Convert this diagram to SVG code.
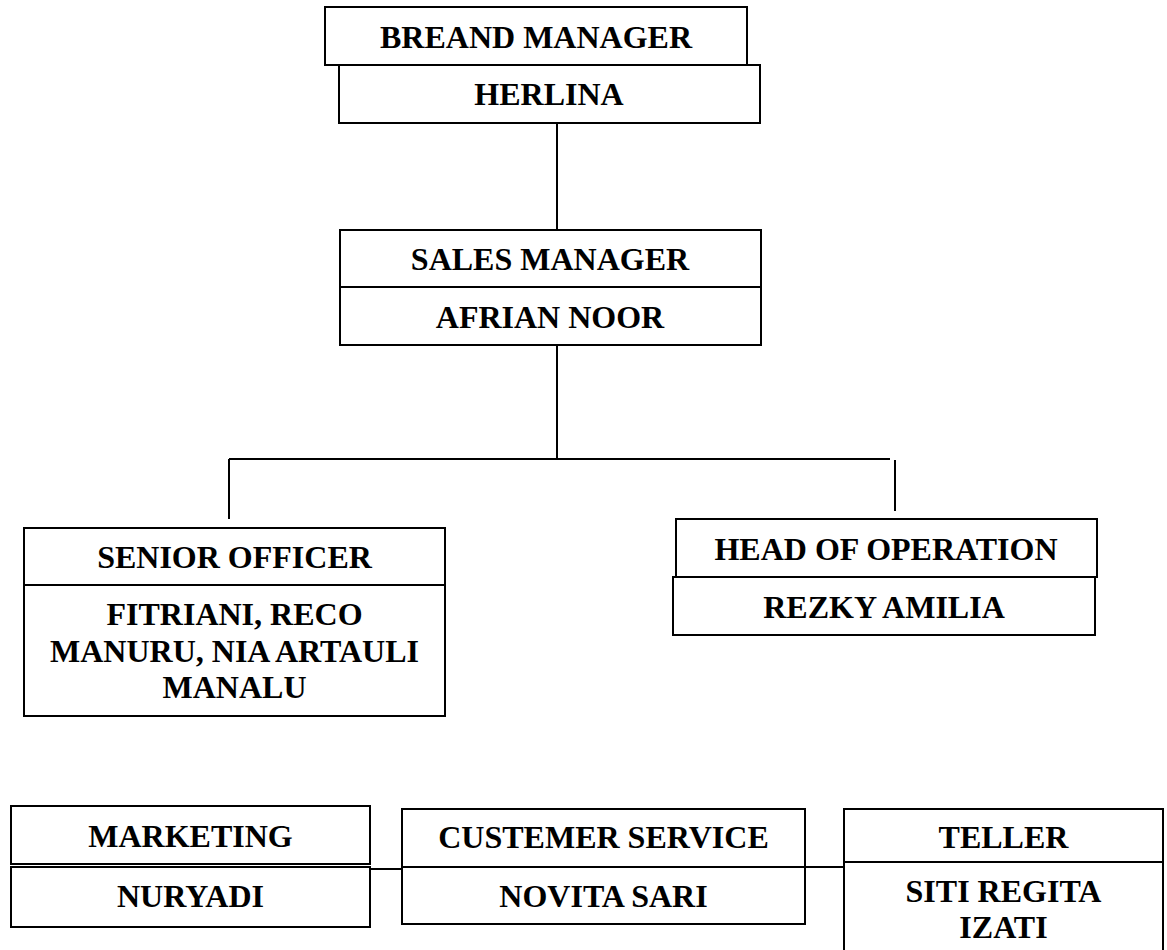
<svg xmlns="http://www.w3.org/2000/svg" width="1167" height="950" viewBox="0 0 1167 950">
<style>
  .box { fill: #ffffff; stroke: #000000; stroke-width: 2; }
  .t { font-family: "Liberation Serif", "Times New Roman", serif; font-weight: bold; font-size: 32px; fill: #000000; text-anchor: middle; }
  .c { stroke: #000000; stroke-width: 2; fill: none; }
</style>
<rect x="0" y="0" width="1167" height="950" fill="#ffffff"/>
<g id="connectors">
  <line class="c" x1="557" y1="123" x2="557" y2="230"/>
  <line class="c" x1="557" y1="345" x2="557" y2="459"/>
  <line class="c" x1="229" y1="459" x2="890" y2="459"/>
  <line class="c" x1="229" y1="459" x2="229" y2="519"/>
  <line class="c" x1="895" y1="460" x2="895" y2="511"/>
  <line class="c" x1="370" y1="869" x2="402" y2="869"/>
  <line class="c" x1="805" y1="867" x2="844" y2="867"/>
</g>
<g id="brand-manager">
  <rect class="box" x="325" y="7" width="422" height="58"/>
  <text class="t" x="536" y="48">BREAND MANAGER</text>
  <rect class="box" x="339" y="65" width="421" height="58"/>
  <text class="t" x="549" y="105">HERLINA</text>
</g>
<g id="sales-manager">
  <rect class="box" x="340" y="230" width="421" height="57"/>
  <text class="t" x="550" y="270">SALES MANAGER</text>
  <rect class="box" x="340" y="287" width="421" height="58"/>
  <text class="t" x="550" y="328">AFRIAN NOOR</text>
</g>
<g id="senior-officer">
  <rect class="box" x="24" y="528" width="421" height="57"/>
  <text class="t" x="234.5" y="568">SENIOR OFFICER</text>
  <rect class="box" x="24" y="585" width="421" height="131"/>
  <text class="t" x="234.5" y="625">FITRIANI, RECO</text>
  <text class="t" x="234.5" y="662">MANURU, NIA ARTAULI</text>
  <text class="t" x="234.5" y="698">MANALU</text>
</g>
<g id="head-of-operation">
  <rect class="box" x="676" y="519" width="421" height="58"/>
  <text class="t" x="886" y="560">HEAD OF OPERATION</text>
  <rect class="box" x="673" y="577" width="422" height="58"/>
  <text class="t" x="884" y="618">REZKY AMILIA</text>
</g>
<g id="marketing">
  <rect class="box" x="11" y="806" width="359" height="58"/>
  <text class="t" x="190.5" y="847">MARKETING</text>
  <rect class="box" x="11" y="867" width="359" height="60"/>
  <text class="t" x="190.5" y="907">NURYADI</text>
</g>
<g id="customer-service">
  <rect class="box" x="402" y="809" width="403" height="58"/>
  <text class="t" x="603.5" y="848">CUSTEMER SERVICE</text>
  <rect class="box" x="402" y="867" width="403" height="57"/>
  <text class="t" x="603.5" y="907">NOVITA SARI</text>
</g>
<g id="teller">
  <rect class="box" x="844" y="809" width="319" height="53"/>
  <text class="t" x="1003.5" y="848">TELLER</text>
  <rect class="box" x="844" y="862" width="319" height="100"/>
  <text class="t" x="1003.5" y="902">SITI REGITA</text>
  <text class="t" x="1003.5" y="938">IZATI</text>
</g>
</svg>
